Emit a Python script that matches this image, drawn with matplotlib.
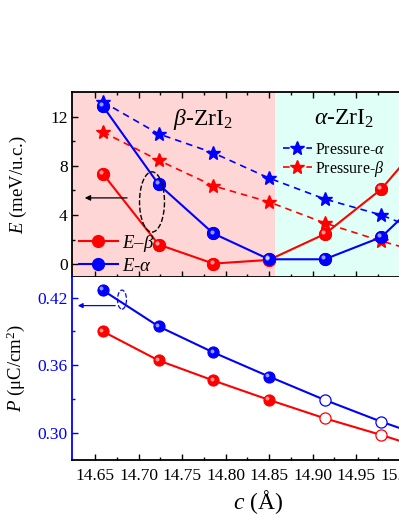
import numpy as np
import matplotlib as mpl
mpl.use('Agg')
import matplotlib.pyplot as plt
from matplotlib.patches import Ellipse
from matplotlib import transforms

plt.rcParams['font.family'] = ['Liberation Serif', 'DejaVu Serif']
plt.rcParams['mathtext.fontset'] = 'custom'
plt.rcParams['mathtext.rm'] = 'Liberation Serif'
plt.rcParams['mathtext.it'] = 'Liberation Serif:italic'
plt.rcParams['mathtext.bf'] = 'Liberation Serif:bold'

# lattice constant c (A); the last point lies past the right edge of the figure
c = [14.659, 14.723, 14.786, 14.850, 14.914, 14.979, 15.043]

# energies (meV/u.c.)
E_beta = [7.35, 1.6, 0.05, 0.35, 2.45, 6.1, 11.4]
E_alpha = [12.85, 6.5, 2.5, 0.4, 0.4, 2.2, 6.5]
press_alpha = [13.2, 10.6, 9.05, 7.0, 5.3, 4.0, 2.2]
press_beta = [10.75, 8.45, 6.37, 5.06, 3.35, 1.88, 0.6]

# polarization (uC/cm^2); first four filled, the rest open
P_alpha = [0.4265, 0.3945, 0.3714, 0.350, 0.3293, 0.310, 0.2929]
P_beta = [0.390, 0.3643, 0.3465, 0.3293, 0.313, 0.2982, 0.2825]
n_filled = 4

c_split = 14.857
red = '#ff0000'
blue = '#0000ff'

W, H = 399, 516
fig = plt.figure(figsize=(W / 100, H / 100), dpi=100)
x0, x1 = 72.4, 443.0
ax1 = fig.add_axes([x0 / W, (H - 276.5) / H, (x1 - x0) / W, 184.5 / H])
ax2 = fig.add_axes([x0 / W, (H - 460) / H, (x1 - x0) / W, 183.5 / H])

xlim = (14.624, 15.05)


def balls(ax, x, y, col, ms=8.5, filled=True):
    if filled:
        ax.plot(x, y, 'o', ms=ms, mfc=col, mec=col, mew=0.8, zorder=4)
        hl = transforms.offset_copy(ax.transData, fig=fig, x=-1.3, y=1.3, units='points')
        ax.plot(x, y, 'o', ms=ms * 0.35, mfc='white', mec='none', alpha=0.6,
                transform=hl, zorder=5)
    else:
        ax.plot(x, y, 'o', ms=ms, mfc='white', mec=col, mew=0.9, zorder=4)


# ---- top panel: energies ----
ax1.axvspan(xlim[0], c_split, color='#ffd6d6', lw=0, zorder=0)
ax1.axvspan(c_split, xlim[1], color='#e0fff6', lw=0, zorder=0)

lpa, = ax1.plot(c, press_alpha, '--', color=blue, lw=1.2, dashes=(4, 3),
                marker='*', ms=10, zorder=3)
lpb, = ax1.plot(c, press_beta, '--', color=red, lw=1.2, dashes=(4, 3),
                marker='*', ms=10, zorder=3)
leb, = ax1.plot(c, E_beta, '-', color=red, lw=1.5, marker='o', ms=8.5,
                mec=red, zorder=3)
lea, = ax1.plot(c, E_alpha, '-', color=blue, lw=1.5, marker='o', ms=8.5,
                mec=blue, zorder=3)
balls(ax1, c, E_beta, red)
balls(ax1, c, E_alpha, blue)

ax1.add_patch(Ellipse((14.7155, 5.06), 0.0287, 4.9, fill=False, ls='--',
                      lw=1.0, ec='k', zorder=6))
ax1.annotate('', xy=(14.635, 5.39), xytext=(14.690, 5.39),
             arrowprops=dict(arrowstyle='-|>', color='k', lw=0.9,
                             mutation_scale=8), zorder=6)

ax1.text(14.774, 11.8, r'$\beta$-ZrI$_2$', fontsize=17, ha='center', va='center')
ax1.text(14.936, 11.8, r'$\alpha$-ZrI$_2$', fontsize=17, ha='center', va='center')

leg1 = ax1.legend([leb, lea], [r'$E$–$\beta$', r'$E$-$\alpha$'], loc='lower left',
                  bbox_to_anchor=(0.012, 0.0), frameon=False, fontsize=13.5,
                  handlelength=2.1, handletextpad=0.2, labelspacing=0.2,
                  borderpad=0.1, borderaxespad=0)
ax1.add_artist(leg1)
ax1.legend([lpa, lpb], [r'Pressure-$\alpha$', r'Pressure-$\beta$'], loc='upper left',
           bbox_to_anchor=(0.568, 0.73), frameon=False, fontsize=11.5,
           handlelength=1.8, handletextpad=0.2, labelspacing=0.05,
           borderpad=0, borderaxespad=0)

ax1.set_xlim(*xlim)
ax1.set_ylim(-1, 14)
ax1.set_yticks([0, 4, 8, 12])
ax1.set_yticks([2, 6, 10], minor=True)
ax1.set_xticks(np.arange(14.65, 15.051, 0.05))
ax1.set_xticks(np.arange(14.675, 15.051, 0.05), minor=True)
ax1.tick_params(axis='both', which='both', direction='in', top=True,
                labelbottom=False, labelsize=12.5, width=1.0)
ax1.tick_params(which='major', length=4)
ax1.tick_params(which='minor', length=2.5)
ax1.set_ylabel(r'$E$ (meV/u.c.)', fontsize=13.5, labelpad=15)
for s in ax1.spines.values():
    s.set_linewidth(1.3)

# ---- bottom panel: polarization ----
ax2.plot(c, P_alpha, '-', color=blue, lw=1.5, zorder=3)
ax2.plot(c, P_beta, '-', color=red, lw=1.5, zorder=3)
balls(ax2, c[:n_filled], P_alpha[:n_filled], blue, ms=8)
balls(ax2, c[:n_filled], P_beta[:n_filled], red, ms=8)
balls(ax2, c[n_filled:], P_alpha[n_filled:], blue, ms=8, filled=False)
balls(ax2, c[n_filled:], P_beta[n_filled:], red, ms=8, filled=False)

ax2.add_patch(Ellipse((14.681, 0.4182), 0.0103, 0.0169, fill=False, ls='--',
                      lw=0.9, ec=blue, zorder=6))
ax2.annotate('', xy=(14.627, 0.4129), xytext=(14.6764, 0.4129),
             arrowprops=dict(arrowstyle='-|>', color=blue, lw=0.9,
                             mutation_scale=7), zorder=6)

ax2.set_xlim(*xlim)
ax2.set_ylim(0.276, 0.4387)
ax2.set_yticks([0.30, 0.36, 0.42])
ax2.set_yticklabels(['0.30', '0.36', '0.42'])
ax2.set_yticks([0.33, 0.39], minor=True)
ax2.set_xticks(np.arange(14.65, 15.051, 0.05))
ax2.set_xticklabels(['%.2f' % v for v in np.arange(14.65, 15.051, 0.05)])
ax2.set_xticks(np.arange(14.675, 15.051, 0.05), minor=True)
ax2.tick_params(axis='both', which='both', direction='in', labelsize=12.5, width=1.0)
ax2.tick_params(which='major', length=4)
ax2.tick_params(which='minor', length=2.5)
ax2.tick_params(axis='y', which='both', colors=blue, labelcolor=blue)
ax2.tick_params(axis='x', pad=6)
ax2.set_ylabel(r'$P$ (μC/cm$^2$)', fontsize=13.5, labelpad=7)
ax2.set_xlabel(r'$c$ (Å)', fontsize=17, labelpad=3)
for s in ax2.spines.values():
    s.set_linewidth(1.3)
ax2.spines['left'].set_color(blue)
ax2.spines['top'].set_visible(False)

fig.savefig('out.png', dpi=100)
